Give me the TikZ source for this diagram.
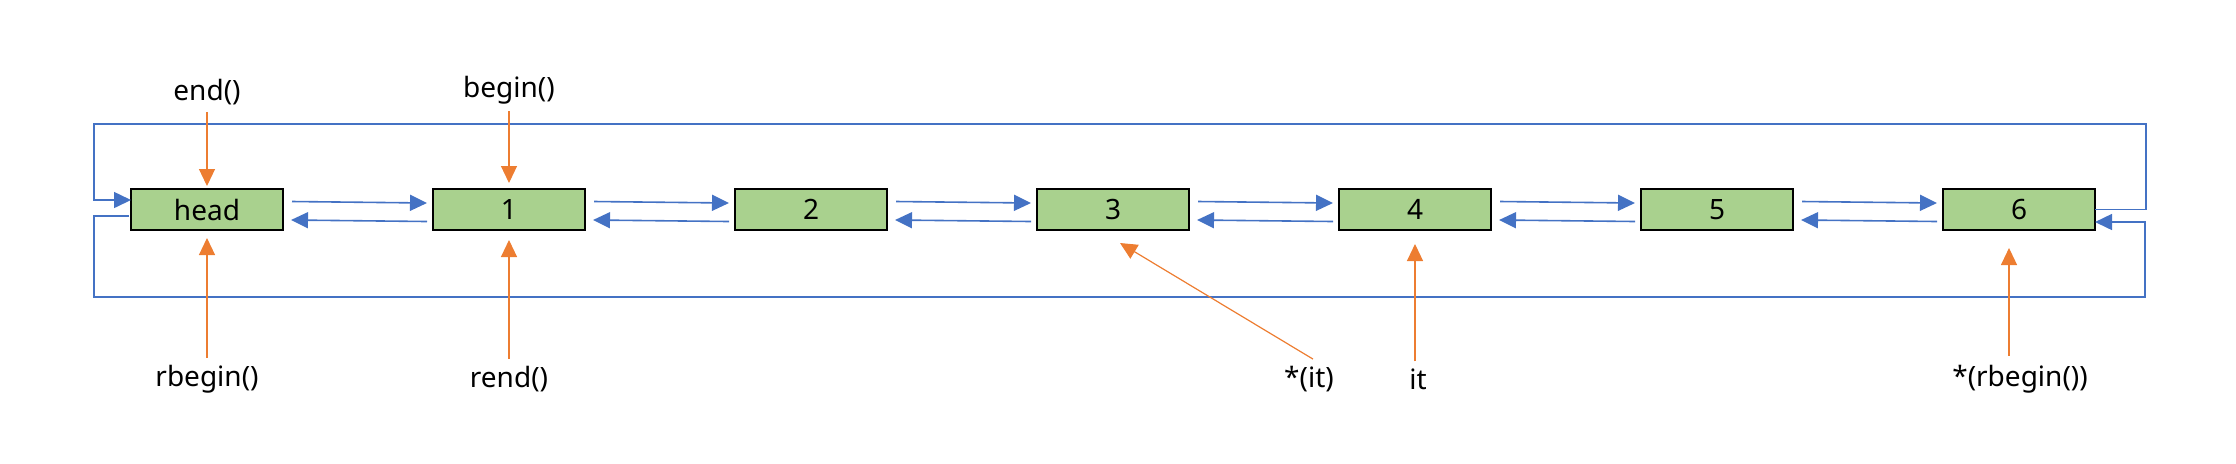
\documentclass[tikz,border=0pt]{standalone}
\usepackage{fontspec}
\setmainfont{Noto Sans}
\usetikzlibrary{arrows.meta,positioning,calc}
\definecolor{wireblue}{HTML}{4472C4}
\definecolor{ptrorange}{HTML}{ED7D31}
\definecolor{nodegreen}{HTML}{A9D18E}

\begin{document}
\begin{tikzpicture}[x=0.5pt,y=-0.5pt,font=\fontsize{14}{16}\selectfont,
  box/.style={draw=black, line width=0.7pt, fill=nodegreen, minimum width=76pt, minimum height=20.5pt, inner sep=0pt, outer sep=0pt},
  wire/.style={wireblue, line width=0.8pt},
  link/.style={wire, -{Triangle[length=8.5pt,width=8pt]}},
  ptr/.style={ptrorange, line width=0.6pt, -{Triangle[length=8.5pt,width=8pt]}}]
\useasboundingbox (0,0) rectangle (2236,463);
% the list
\node[box] (head) at (207,209.5) {head};
\node[box, right=75pt of head] (n1) {1};
\node[box, right=75pt of n1] (n2) {2};
\node[box, right=75pt of n2] (n3) {3};
\node[box, right=75pt of n3] (n4) {4};
\node[box, right=75pt of n4] (n5) {5};
\node[box, right=75pt of n5] (n6) {6};
% next / prev links
\draw[link] ($(head.east)+(9,-8)$) -- ($(n1.west)+(-6,-6.5)$);
\draw[link] ($(n1.west)+(-6,12)$) -- ($(head.east)+(8,10.5)$);
\draw[link] ($(n1.east)+(9,-8)$) -- ($(n2.west)+(-6,-6.5)$);
\draw[link] ($(n2.west)+(-6,12)$) -- ($(n1.east)+(8,10.5)$);
\draw[link] ($(n2.east)+(9,-8)$) -- ($(n3.west)+(-6,-6.5)$);
\draw[link] ($(n3.west)+(-6,12)$) -- ($(n2.east)+(8,10.5)$);
\draw[link] ($(n3.east)+(9,-8)$) -- ($(n4.west)+(-6,-6.5)$);
\draw[link] ($(n4.west)+(-6,12)$) -- ($(n3.east)+(8,10.5)$);
\draw[link] ($(n4.east)+(9,-8)$) -- ($(n5.west)+(-6,-6.5)$);
\draw[link] ($(n5.west)+(-6,12)$) -- ($(n4.east)+(8,10.5)$);
\draw[link] ($(n5.east)+(9,-8)$) -- ($(n6.west)+(-6,-6.5)$);
\draw[link] ($(n6.west)+(-6,12)$) -- ($(n5.east)+(8,10.5)$);
% wrap around
\draw[link] (n6.east) -| (2146,124) -| (94,200) -- ($(head.west)+(0,-9.5)$);
\draw[link] ($(head.west)+(-2,6.5)$) -| (94,297) -| (2145,222) -- ($(n6.east)+(0,12.5)$);
% iterators
\node (lend) at (207,92) {end()};
\node (lbegin) at (509,90) {begin()};
\node (lrbegin) at (207,379) {rbegin()};
\node (lrend) at (509,379) {rend()};
\node (lderef) at (1309,379) {*(it)};
\node (lit) at (1418,379) {it};
\node (lderefrb) at (2020,379) {*(rbegin())};
\draw[ptr] (lend.south -| head) -- ($(head.north)+(0,-3)$);
\draw[ptr] (lbegin.south -| n1) -- ($(n1.north)+(0,-6)$);
\draw[ptr] (lrbegin.north -| head) -- ($(head.south)+(0,8)$);
\draw[ptr] (lrend.north -| n1) -- ($(n1.south)+(0,10)$);
\draw[ptr] ($(lderef.north)+(4,0)$) -- ($(n3.south)+(7,13)$);
\draw[ptr] (lit.north -| n4) -- ($(n4.south)+(0,14)$);
\draw[ptr] ($(lderefrb.north)+(-11,-2)$) -- ($(n6.south)+(-10,18)$);
\end{tikzpicture}
\end{document}
